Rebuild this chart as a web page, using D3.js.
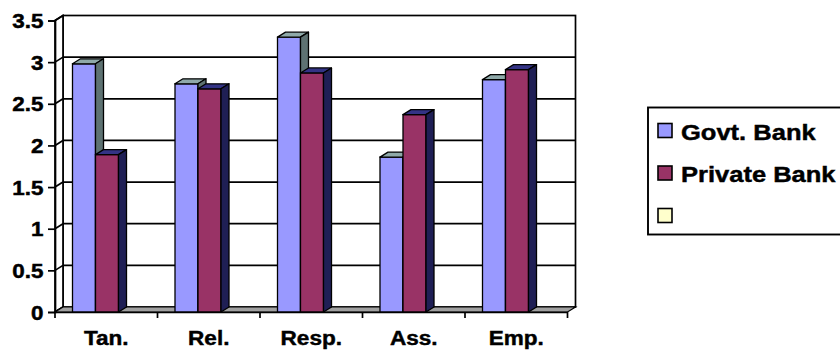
<!DOCTYPE html>
<html>
<head>
<meta charset="utf-8">
<script src="https://cdn.jsdelivr.net/npm/d3@7"></script>
<style>
  html, body { margin: 0; padding: 0; background: #fff; }
  svg { display: block; }
  text { font-family: "Liberation Sans", Arial, sans-serif; font-weight: bold; fill: #000; stroke: #000; stroke-width: 0.45px; }
</style>
</head>
<body>
<svg id="chart" width="840" height="352"></svg>
<script>
// ---- data ----
const categories = ["Tan.", "Rel.", "Resp.", "Ass.", "Emp."];
const seriesNames = ["Govt. Bank", "Private Bank"];
const govtBank = [2.98, 2.74, 3.30, 1.86, 2.79];
const privateBank = [1.89, 2.68, 2.87, 2.37, 2.91];
const legendLabels = ["Govt. Bank", "Private Bank", ""];
const yTicks = [0, 0.5, 1, 1.5, 2, 2.5, 3, 3.5];

// ---- styles ----
const frontColors = ["#9999FF", "#993366", "#FFFFCC"];
const topColors = ["#8FA9A9", "#333385"];
const sideColors = ["#5E7272", "#1F1F55"];

const svg = d3.select("#chart");
const dx = 8, dy = -5;
const x = d3.scaleBand().domain(categories).range([55, 567.5]).padding(0);
const y = d3.scaleLinear().domain([0, 3.5]).range([312, 20.5]);
const inner = d3.scaleBand().domain(seriesNames).range([17.5, 63.5]).padding(0);

const series = [govtBank, privateBank];
const lw = 1.7;

// back wall
const wall = svg.append("g");
wall.append("rect")
  .attr("x", x.range()[0] + dx).attr("y", y(3.5) + dy)
  .attr("width", x.range()[1] - x.range()[0]).attr("height", y(0) - y(3.5))
  .attr("fill", "#fff").attr("stroke", "#000").attr("stroke-width", lw);
wall.selectAll("line.grid").data(yTicks.slice(1, -1)).join("line")
  .attr("class", "grid")
  .attr("x1", x.range()[0] + dx).attr("x2", x.range()[1] + dx)
  .attr("y1", d => y(d) + dy).attr("y2", d => y(d) + dy)
  .attr("stroke", "#000").attr("stroke-width", lw);

// left side wall
const x0 = x.range()[0];
wall.append("path")
  .attr("d", `M${x0},${y(0)}L${x0},${y(3.5)}L${x0 + dx},${y(3.5) + dy}L${x0 + dx},${y(0) + dy}Z`)
  .attr("fill", "#fff").attr("stroke", "#000").attr("stroke-width", lw);
wall.selectAll("line.sgrid").data(yTicks).join("line")
  .attr("class", "sgrid")
  .attr("x1", x0).attr("x2", x0 + dx)
  .attr("y1", d => y(d)).attr("y2", d => y(d) + dy)
  .attr("stroke", "#000").attr("stroke-width", lw);

// floor
const x1 = x.range()[1];
svg.append("path")
  .attr("d", `M${x0},${y(0)}L${x1},${y(0)}L${x1 + dx},${y(0) + dy}L${x0 + dx},${y(0) + dy}Z`)
  .attr("fill", "#A0A0A0").attr("stroke", "#000").attr("stroke-width", 1.2);

// bars
const bars = svg.append("g");
categories.forEach((c, i) => {
  series.forEach((s, j) => {
    const bx = x(c) + inner(seriesNames[j]);
    const bw = inner.bandwidth();
    const top = y(s[i]), bot = y(0);
    const g = bars.append("g");
    g.append("rect").attr("x", bx).attr("y", top).attr("width", bw).attr("height", bot - top)
      .attr("fill", frontColors[j]).attr("stroke", "#000").attr("stroke-width", 1.3);
    g.append("path")
      .attr("d", `M${bx},${top}L${bx + bw},${top}L${bx + bw + dx},${top + dy}L${bx + dx},${top + dy}Z`)
      .attr("fill", topColors[j]).attr("stroke", "#000").attr("stroke-width", 1.3).attr("stroke-linejoin", "round");
    g.append("path")
      .attr("d", `M${bx + bw},${top}L${bx + bw + dx},${top + dy}L${bx + bw + dx},${bot + dy}L${bx + bw},${bot}Z`)
      .attr("fill", sideColors[j]).attr("stroke", "#000").attr("stroke-width", 1.3).attr("stroke-linejoin", "round");
  });
});

// y axis
const yAxis = svg.append("g").attr("transform", `translate(${x0},0)`)
  .call(d3.axisLeft(y).tickValues(yTicks).tickSize(7).tickPadding(4).tickFormat(d3.format("")));
yAxis.select(".domain").attr("stroke", "#000").attr("stroke-width", lw);
yAxis.selectAll(".tick line").attr("stroke", "#000").attr("stroke-width", lw);
yAxis.selectAll(".tick text")
  .attr("x", -11.5 / 1.15).attr("dy", "0.36em")
  .attr("transform", "scale(1.15,1)")
  .style("font-size", "19.5px").style("font-family", "'Liberation Sans', Arial, sans-serif").style("font-weight", "bold");

// x axis
const xAxis = svg.append("g").attr("transform", `translate(0,${y(0)})`)
  .call(d3.axisBottom(x).tickSize(0).tickPadding(0));
xAxis.select(".domain").attr("stroke", "#000").attr("stroke-width", lw);
xAxis.selectAll(".tick text")
  .attr("y", 33).attr("dy", 0)
  .attr("transform", "scale(1.1,1)")
  .style("font-size", "20.5px").style("font-family", "'Liberation Sans', Arial, sans-serif").style("font-weight", "bold");
xAxis.selectAll("line.bound").data(categories.map(c => x(c)).concat([x1])).join("line")
  .attr("class", "bound")
  .attr("x1", d => d).attr("x2", d => d).attr("y1", 0).attr("y2", 6)
  .attr("stroke", "#000").attr("stroke-width", lw);

// legend
const lg = svg.append("g");
lg.append("rect").attr("x", 648).attr("y", 107.5).attr("width", 220).attr("height", 127)
  .attr("fill", "#fff").attr("stroke", "#000").attr("stroke-width", 1.9);
const items = lg.selectAll("g.item").data(legendLabels).join("g").attr("class", "item")
  .attr("transform", (d, i) => `translate(658,${123.5 + i * 42.5})`);
items.append("rect").attr("width", 14).attr("height", 14)
  .attr("fill", (d, i) => frontColors[i]).attr("stroke", "#000").attr("stroke-width", 1.6);
items.append("text")
  .attr("transform", "translate(23,16) scale(1.16,1)")
  .style("font-size", "22px")
  .text(d => d);
</script>
</body>
</html>
